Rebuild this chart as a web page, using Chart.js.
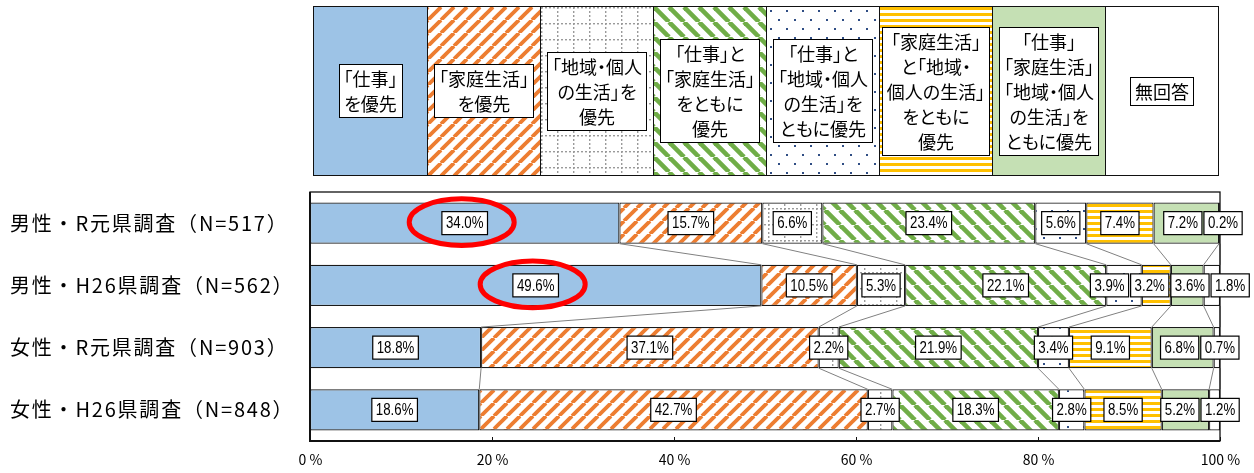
<!DOCTYPE html>
<html lang="ja">
<head>
<meta charset="utf-8">
<script src="https://cdn.jsdelivr.net/npm/chart.js@4.4.1/dist/chart.umd.min.js"></script>
<style>
  body { margin: 0; background: #fff; }
  #wrap { position: relative; width: 1254px; height: 473px; }
  #legend {
    position: absolute; left: 313px; top: 6px; width: 906px; height: 170px;
    display: grid; grid-template-columns: repeat(8, 1fr);
    border: 1.5px solid #111; box-sizing: border-box;
  }
  #legend .cell {
    display: flex; align-items: center; justify-content: center;
    border-left: 1.3px solid #111;
  }
  #legend .cell:first-child { border-left: none; }
  #legend .tag {
    background: #fff; border: 1.3px solid #000; padding: 1px 4px;
    font: 18px/25px "Noto Sans CJK JP", sans-serif;
    font-feature-settings: "palt" 1;
    text-align: center; white-space: nowrap; color: #000;
  }
</style>
</head>
<body>
<div id="wrap">
  <canvas id="c" width="1254" height="473"></canvas>
  <div id="legend"></div>
</div>
<script>
// survey groups (rows, top to bottom)
const groups = [
  '男性・R元県調査（N=517）',
  '男性・H26県調査（N=562）',
  '女性・R元県調査（N=903）',
  '女性・H26県調査（N=848）'
];

// answer categories, one legend line per entry
const seriesNames = [
  ['「仕事」', 'を優先'],
  ['「家庭生活」', 'を優先'],
  ['「地域・個人', 'の生活」を', '優先'],
  ['「仕事」と', '「家庭生活」', 'をともに', '優先'],
  ['「仕事」と', '「地域・個人', 'の生活」を', 'ともに優先'],
  ['「家庭生活」', 'と「地域・', '個人の生活」', 'をともに', '優先'],
  ['「仕事」', '「家庭生活」', '「地域・個人', 'の生活」を', 'ともに優先'],
  ['無回答']
];

// percentages per category, in group order
const work            = [34.0, 49.6, 18.8, 18.6];
const family          = [15.7, 10.5, 37.1, 42.7];
const community       = [6.6, 5.3, 2.2, 2.7];
const workFamily      = [23.4, 22.1, 21.9, 18.3];
const workCommunity   = [5.6, 3.9, 3.4, 2.8];
const familyCommunity = [7.4, 3.2, 9.1, 8.5];
const allThree        = [7.2, 3.6, 6.8, 5.2];
const noAnswer        = [0.2, 1.8, 0.7, 1.2];
const seriesValues = [work, family, community, workFamily, workCommunity, familyCommunity, allThree, noAnswer];

const xTicks = [0, 20, 40, 60, 80, 100];
const circledRows = [0, 1]; // rows whose "仕事を優先" value is ringed in red

// ---- fill patterns ----
function tile(w, h, paint) {
  const c = document.createElement('canvas');
  c.width = w; c.height = h;
  const g = c.getContext('2d');
  g.fillStyle = '#fff';
  g.fillRect(0, 0, w, h);
  paint(g);
  return c;
}
function diagonal(size, color, width, up) {
  return tile(size, size, g => {
    g.strokeStyle = color; g.lineWidth = width;
    for (let k = -1; k <= 1; k++) {
      g.beginPath();
      if (up) { g.moveTo(k * size, size); g.lineTo(k * size + size, 0); }
      else { g.moveTo(k * size, 0); g.lineTo(k * size + size, size); }
      g.stroke();
    }
  });
}
const gridTile = tile(16, 16, g => {
  g.fillStyle = '#9a9a9a';
  for (let i = 0; i < 16; i += 4) { g.fillRect(i, 0, 2, 1.4); g.fillRect(0, i, 1.4, 2); }
});
const dotTile = tile(16, 18, g => {
  g.fillStyle = '#2f4d84';
  g.fillRect(3, 3, 2, 2);
  g.fillRect(11, 12, 2, 2);
});
const hStripeTile = tile(4, 6, g => { g.fillStyle = '#ffc000'; g.fillRect(0, 0, 4, 3); });

const scratch = document.createElement('canvas').getContext('2d');
function fillOf(x) {
  if (typeof x === 'string') return { bg: x, css: x };
  return { bg: scratch.createPattern(x, 'repeat'), css: 'url(' + x.toDataURL() + ')' };
}
const fills = [
  '#9dc3e6',
  diagonal(13, '#ed7d31', 3.8, true),
  gridTile,
  diagonal(15, '#70ad47', 4.6, false),
  dotTile,
  hStripeTile,
  '#c5e0b4',
  '#ffffff'
].map(fillOf);

// ---- legend row built from the datasets ----
const htmlLegend = {
  id: 'htmlLegend',
  afterUpdate(chart) {
    const box = document.getElementById('legend');
    box.innerHTML = '';
    chart.data.datasets.forEach((ds, s) => {
      const cell = document.createElement('div');
      cell.className = 'cell';
      cell.style.background = fills[s].css;
      const tag = document.createElement('div');
      tag.className = 'tag';
      ds.label.split('\n').forEach((line, k) => {
        if (k) tag.appendChild(document.createElement('br'));
        tag.appendChild(document.createTextNode(line));
      });
      cell.appendChild(tag);
      box.appendChild(cell);
    });
  }
};

// push overlapping label boxes apart, keeping clusters centred on their segments
function spread(items, gap) {
  const groupsOf = items.map(it => ({ list: [it] }));
  const place = grp => {
    let off = 0, sum = 0;
    grp.list.forEach(it => { sum += it.cx - (off + it.w / 2); off += it.w + gap; });
    grp.left = sum / grp.list.length;
    grp.right = grp.left + off - gap;
  };
  groupsOf.forEach(place);
  let merged = true;
  while (merged) {
    merged = false;
    for (let k = 0; k < groupsOf.length - 1; k++) {
      if (groupsOf[k].right + gap > groupsOf[k + 1].left) {
        groupsOf[k].list = groupsOf[k].list.concat(groupsOf[k + 1].list);
        groupsOf.splice(k + 1, 1);
        place(groupsOf[k]);
        merged = true;
        break;
      }
    }
  }
  groupsOf.forEach(grp => {
    let x = grp.left;
    grp.list.forEach(it => { it.x = x; x += it.w + gap; });
  });
}

const decorations = {
  id: 'decorations',
  // wider tracking for the group names on the y axis
  beforeDraw(chart) { chart.ctx.letterSpacing = '1.8px'; },
  beforeDatasetsDraw(chart) { chart.ctx.letterSpacing = '0px'; },
  afterDatasetsDraw(chart) {
    const { ctx, chartArea: a } = chart;
    const xs = chart.scales.x;
    const metas = chart.data.datasets.map((d, s) => chart.getDatasetMeta(s));
    const right = a.right;
    ctx.save();

    // series lines between neighbouring bars
    ctx.strokeStyle = '#808080';
    ctx.lineWidth = 1;
    metas.forEach(meta => {
      for (let i = 0; i < meta.data.length - 1; i++) {
        const p = meta.data[i].getProps(['x', 'y', 'height'], true);
        const q = meta.data[i + 1].getProps(['x', 'y', 'height'], true);
        ctx.beginPath();
        ctx.moveTo(Math.min(p.x, right), p.y + p.height / 2);
        ctx.lineTo(Math.min(q.x, right), q.y - q.height / 2);
        ctx.stroke();
      }
    });

    // plot frame, inward ticks and their labels
    ctx.strokeStyle = '#111';
    ctx.lineWidth = 1.3;
    ctx.strokeRect(a.left, a.top, a.width, a.height);
    ctx.lineWidth = 2;
    ctx.beginPath();
    ctx.moveTo(a.left, a.top); ctx.lineTo(a.left, a.bottom); ctx.lineTo(a.right, a.bottom);
    ctx.stroke();
    ctx.lineWidth = 1;
    ctx.font = "14px 'Noto Sans CJK JP', sans-serif";
    ctx.fillStyle = '#000';
    ctx.textAlign = 'center';
    ctx.textBaseline = 'middle';
    xs.ticks.forEach(t => {
      const px = Math.round(xs.getPixelForValue(t.value)) + 0.5;
      ctx.beginPath(); ctx.moveTo(px, a.bottom); ctx.lineTo(px, a.bottom - 4); ctx.stroke();
      ctx.fillText(t.value + ' %', px, a.bottom + 19);
    });

    // value labels
    ctx.font = '17px "Liberation Sans", Arial, sans-serif';
    const squeeze = 0.78;
    const rows = chart.data.labels.map((g, i) => {
      const items = metas.map((meta, s) => {
        const el = meta.data[i].getProps(['x', 'y', 'base', 'height'], true);
        const text = chart.data.datasets[s].data[i].toFixed(1) + '%';
        const w = ctx.measureText(text).width * squeeze + 8;
        return { text, w, cy: el.y, cx: (el.base + Math.min(el.x, right)) / 2 };
      });
      spread(items, 2);
      return items;
    });
    ctx.lineWidth = 1.2;
    rows.forEach(items => items.forEach(it => {
      ctx.fillStyle = '#fff';
      ctx.fillRect(it.x, it.cy - 11.5, it.w, 23);
      ctx.strokeStyle = '#000';
      ctx.strokeRect(it.x, it.cy - 11.5, it.w, 23);
      ctx.fillStyle = '#000';
      ctx.save();
      ctx.translate(it.x + it.w / 2, it.cy + 0.5);
      ctx.scale(squeeze, 1);
      ctx.fillText(it.text, 0, 0);
      ctx.restore();
    }));

    // red rings
    ctx.strokeStyle = '#ff0000';
    ctx.lineWidth = 5;
    circledRows.forEach(r => {
      const it = rows[r][0];
      ctx.beginPath();
      ctx.ellipse(it.x + it.w / 2 - 3, it.cy - 1, 52.5, 23.3, 0, 0, Math.PI * 2);
      ctx.stroke();
    });
    ctx.restore();
  }
};

new Chart(document.getElementById('c'), {
  type: 'bar',
  data: {
    labels: groups,
    datasets: seriesValues.map((vals, s) => ({
      label: seriesNames[s].join('\n'),
      data: vals,
      backgroundColor: fills[s].bg,
      borderColor: '#1a1a1a',
      borderWidth: 1.2,
      borderSkipped: false,
      barPercentage: 0.66,
      categoryPercentage: 1
    }))
  },
  options: {
    indexAxis: 'y',
    responsive: false,
    animation: false,
    devicePixelRatio: 1,
    layout: { padding: { top: 192, left: 10, right: 34, bottom: 5 } },
    scales: {
      x: {
        stacked: true, min: 0, max: 100,
        afterBuildTicks: scale => { scale.ticks = xTicks.map(v => ({ value: v })); },
        afterFit: scale => { scale.height = 27; },
        grid: { display: false, drawTicks: false },
        border: { display: false },
        ticks: { display: false }
      },
      y: {
        stacked: true,
        grid: { display: false, drawTicks: false },
        border: { display: false },
        afterFit: scale => { scale.width = 300; },
        ticks: {
          crossAlign: 'far', color: '#000',
          font: { family: "'Noto Sans CJK JP', sans-serif", size: 20 }
        }
      }
    },
    plugins: { legend: { display: false }, tooltip: { enabled: false } }
  },
  plugins: [htmlLegend, decorations]
});
</script>
</body>
</html>
